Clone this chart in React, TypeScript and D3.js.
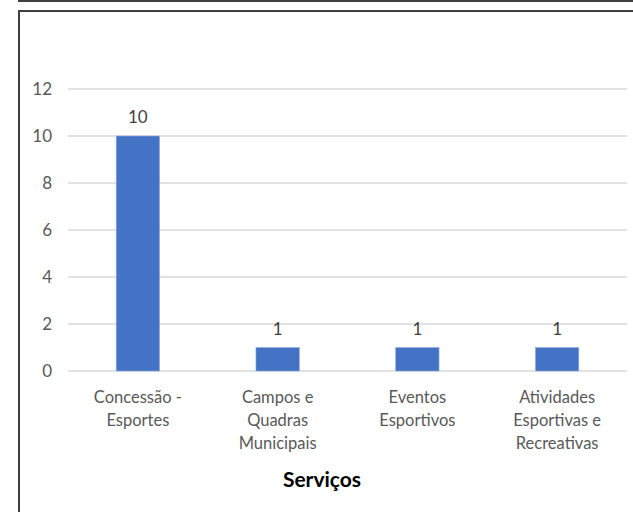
import React from "react";
import * as d3 from "d3";

const categories: string[][] = [
  ["Concessão -", "Esportes"],
  ["Campos e", "Quadras", "Municipais"],
  ["Eventos", "Esportivos"],
  ["Atividades", "Esportivas e", "Recreativas"],
];
const values: number[] = [10, 1, 1, 1];
const yTicks: number[] = [0, 2, 4, 6, 8, 10, 12];
const xTitle = "Serviços";

const W = 633;
const H = 512;
const plot = { left: 68, right: 627, top: 89, bottom: 371 };
const font = "Lato, 'Open Sans', sans-serif";

export default function App() {
  const x = d3
    .scaleBand<number>()
    .domain(values.map((_, i) => i))
    .range([plot.left, plot.right])
    .paddingInner(0.69)
    .paddingOuter(0.345);
  const y = d3.scaleLinear().domain([0, 12]).range([plot.bottom, plot.top]);

  return (
    <div style={{ position: "fixed", left: 0, top: 0 }}>
      <svg width={W} height={H} style={{ display: "block", background: "#fff" }}>
        {/* previous box bottom edge */}
        <rect x={19} y={-50} width={W + 50} height={51} fill="none" stroke="#404040" strokeWidth={2} />
        {/* chart box */}
        <rect x={19} y={11} width={W + 50} height={H + 50} fill="#fff" stroke="#404040" strokeWidth={2} />
        {yTicks.map((t) => (
          <g key={t}>
            <line x1={plot.left} x2={plot.right} y1={y(t)} y2={y(t)} stroke="#d9d9d9" strokeWidth={1.5} />
            <text
              x={52}
              y={y(t)}
              dy="0.35em"
              textAnchor="end"
              fontFamily={font}
              fontSize={17}
              fill="#595959"
            >
              {t}
            </text>
          </g>
        ))}
        {values.map((v, i) => (
          <g key={i}>
            <rect
              x={x(i)}
              y={y(v)}
              width={x.bandwidth()}
              height={y(0) - y(v)}
              fill="#4472c4"
              stroke="#8eaadb"
              strokeWidth={0.6}
            />
            <text
              x={(x(i) as number) + x.bandwidth() / 2}
              y={y(v) - 13}
              textAnchor="middle"
              fontFamily={font}
              fontSize={17}
              fill="#404040"
            >
              {v}
            </text>
            <text
              x={(x(i) as number) + x.bandwidth() / 2}
              y={403}
              textAnchor="middle"
              fontFamily={font}
              fontSize={16.5}
              fill="#595959"
            >
              {categories[i].map((line, j) => (
                <tspan key={j} x={(x(i) as number) + x.bandwidth() / 2} dy={j === 0 ? 0 : 23}>
                  {line}
                </tspan>
              ))}
            </text>
          </g>
        ))}
        <text
          x={322}
          y={487}
          textAnchor="middle"
          fontFamily={font}
          fontSize={21}
          fontWeight="bold"
          fill="#000"
        >
          {xTitle}
        </text>
      </svg>
    </div>
  );
}
